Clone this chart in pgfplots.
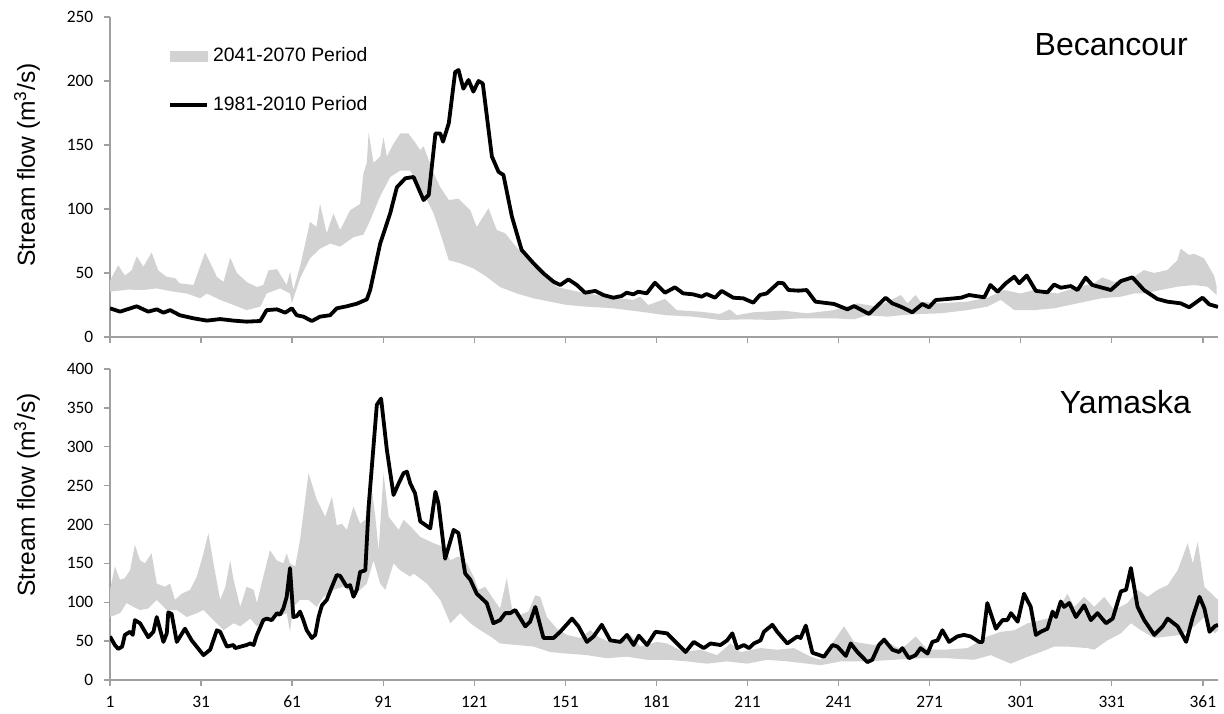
\documentclass[border=0pt]{standalone}
\usepackage{pgfplots}
\pgfplotsset{compat=1.18}
\usepgfplotslibrary{fillbetween}
\usepackage{fontspec}
\setmainfont{Liberation Sans}
\newfontfamily\carlito{Carlito}
\definecolor{axisgray}{RGB}{160,160,160}
\definecolor{bandgray}{RGB}{210,210,210}

\pgfplotsset{panel/.style={
  scale only axis, width=554pt,
  xmin=1, xmax=366, ymin=0,
  axis lines*=left,
  axis line style={draw=axisgray, line width=0.65pt},
  xtick={1,31,...,361},
  ytick distance=50,
  tick align=outside,
  major tick length=2.85pt,
  tick style={draw=axisgray, line width=0.65pt},
  tick label style={font=\carlito\fontsize{8.7}{10}\selectfont},
  /pgf/number format/assume math mode=true,
  yticklabel style={xshift=-2pt},
  xticklabel style={yshift=-1pt, text height=6.2pt, text depth=0pt},
  ylabel style={font=\fontsize{12.3}{14}\selectfont, anchor=center},
  ylabel={Stream flow (m\textsuperscript{3}/s)},
  line join=round,
}}

\begin{document}
\begin{tikzpicture}

% ---------------- Becancour ----------------
\begin{axis}[panel, at={(55pt,-168.5pt)}, anchor=south west,
  height=160pt, ymax=250, xticklabel=\empty,
  ylabel style={at={(axis description cs:-0.0749,0.5375)}},
  legend style={at={(0.0523,0.918)}, anchor=north west,
    draw=none, fill=none, inner sep=0pt, row sep=12pt,
    font=\fontsize{9.7}{11}\selectfont},
  legend cell align=left]
\addlegendimage{legend image code/.code={\fill[bandgray] (0pt,-2.5pt) rectangle (18.5pt,2.5pt);}}
\addlegendentry{2041-2070 Period}
\addplot[name path=bup, draw=none, forget plot] coordinates {
(1,44) (3.7,56) (5.9,48) (8.1,52) (9.8,63) (12,55) (14.7,66) (16.9,52) (19.7,47) (22.4,46)
(24,42) (28.5,40.6) (32.3,66) (34,58) (36.2,47) (38.4,43) (40.6,62) (42.8,50) (46,43) (49.4,39)
(51.5,40.6) (53.2,52) (56,53) (59.2,40.6) (60.3,51) (61.4,36.7) (63.6,55) (66.9,90) (69,86) (70.2,104)
(72.4,81) (74.6,96.6) (76.8,83.6) (80.1,99) (83.4,104) (84.5,128) (85.6,136) (86.2,160) (87.8,136) (90,141)
(91.1,156) (92.2,141) (94.4,151) (96.6,159) (99.3,159) (101.5,152) (103.2,146) (104.3,149) (107.6,128) (109.8,117)
(112.6,107) (115.8,108) (119.7,99) (121.8,86) (125.7,100.5) (128.4,83.6) (131.2,81) (133.9,73) (137.2,64) (141.6,55)
(148.2,39) (158,34) (166.8,30.7) (173.4,29) (175.6,31.5) (178.3,25) (183.8,29.7) (187.7,21) (195.3,19.8) (201.9,18)
(205.2,21.6) (207.4,17) (212.9,19.3) (222.8,20.6) (230.5,18.5) (239.5,21) (247.2,26.3) (253.8,23.7) (261.5,32.8) (263.7,26.3)
(266.4,32.8) (268,27.6) (274.6,26.3) (283.4,27.6) (290,30.7) (295.5,36.7) (301,34) (305.4,36.7) (313.1,34) (319.7,39)
(325.2,42) (327.9,46.6) (331.8,43) (338.4,47) (341.6,52.3) (344.9,50) (349.3,52.3) (352.6,60) (353.7,69) (356.5,64)
(358.1,65) (361.4,61.5) (364.7,48) (365.5,40)
};
\addplot[name path=blo, draw=none, forget plot] coordinates {
(1,35.4) (7,37) (12,36.7) (16.4,38) (21.9,35.4) (26.3,34) (30.7,30.2) (32.9,34) (37.3,29) (41.7,25)
(46,21) (50.5,23.7) (52.6,34) (57,38) (60.3,34) (60.9,26.3) (63.6,45.8) (66.9,61.5) (70.2,69) (73.5,73)
(76.8,70.6) (81.2,78) (84.5,80) (86.7,91) (90,110) (93.3,125) (96.6,130) (99.9,130) (105.4,107) (107.6,96.6)
(109.8,81) (112.6,60) (116.4,57.6) (120.7,53.6) (125.1,47) (129.5,39) (135,34) (140.5,30.2) (146,27.6) (151.5,25)
(158,23.7) (166.8,22.4) (175.6,19.8) (184.3,17) (193.1,15.9) (201.9,13.3) (210.7,13.8) (219.5,13.3) (228.4,14.6) (239.5,14.6)
(246.1,13.8) (250.5,17) (257.1,15.9) (261.5,17) (268,18) (274.6,18.5) (283.4,21) (290,23.7) (294.4,29) (298.9,21)
(305.4,21) (312,22.4) (319.7,26.3) (327.4,30.2) (334,31.5) (338.4,34) (341.6,34) (347.1,36.7) (352.6,39.3) (358.1,40.6)
(362.5,39.3) (365.5,33)
};
\addplot[bandgray, draw=none, forget plot] fill between[of=bup and blo];
\addplot[black, line width=1.9pt,
  legend image code/.code={\draw[black, line width=1.9pt] (0pt,0pt) -- (18.5pt,0pt);}] coordinates {
(1,22.4) (4.3,19.8) (9.8,24) (13.6,19.8) (16.4,21.6) (18.6,19) (20.8,21) (24,17) (28.5,14.6) (32.9,12.8)
(37.3,14) (41.7,12.8) (46,12) (50.5,12.5) (52.6,21) (56,21.6) (58.7,19) (60.9,22.4) (62.5,17) (64.7,15.9)
(67.5,12.5) (70.2,15.9) (73.5,17) (75.7,22.4) (79,24) (82.3,26) (85.6,29.4) (86.7,36.7) (90,73) (93.3,96.6)
(95.5,117) (98.3,124) (101,125) (104.3,107) (106,111) (108.2,159) (109.8,159) (110.7,152.6) (112.6,167) (114.7,207)
(115.8,208.6) (117.4,194) (119.1,200.8) (120.7,191.7) (122.4,200) (123.8,198) (126.8,141) (129,129) (130.6,126.6) (133.4,94)
(136.6,68) (140.5,57.6) (143.8,49.7) (147.1,43.2) (149.3,40.6) (152,45) (154.8,40.6) (157.5,34.6) (160.8,36) (163.5,32.8)
(166.8,30.7) (169.5,32) (171.2,34.6) (173.4,33.3) (175,35.4) (177.8,34.1) (180.5,42.4) (183.8,34.6) (187.1,38.8) (189.8,34.1)
(193.1,33.3) (195.9,31.5) (197.5,33.6) (200.3,30.7) (202.5,36) (206.3,30.7) (209.6,30.2) (212.9,26.8) (215.1,32.8) (217.3,34)
(221.2,42.4) (222.8,42) (224.5,36.7) (227.8,36.2) (230.5,36.7) (233.4,27.6) (239.5,25.8) (243.9,21.6) (246.1,24.2) (251,18)
(256.5,30.7) (258.7,26.3) (261.5,23.7) (265.3,19.3) (268.6,25.8) (270.8,23.2) (273,28.9) (276.9,29.7) (281.3,30.7) (284,32.8)
(289,31) (291,40.6) (293.4,35.4) (296.1,42) (298.9,47.1) (300.5,42) (303,48) (306,36) (309.8,34.9) (312,41)
(314.2,38.5) (317.5,39.8) (319.7,36.7) (322.4,46.4) (324.6,40.6) (330.7,36.7) (334,43.7) (337.8,46.6) (341.6,36.7) (346,29.7)
(349.3,27.6) (353.7,26.3) (356.5,23.2) (360.9,30.7) (363.1,25.5) (366,23.5)
};
\addlegendentry{1981-2010 Period}
\node[anchor=base east, font=\fontsize{16}{19}\selectfont] at (rel axis cs:0.979,0.881) {Becancour};
\end{axis}

% ---------------- Yamaska ----------------
\begin{axis}[panel, at={(55pt,-340pt)}, anchor=south west,
  height=155.5pt, ymax=400,
  ylabel style={at={(axis description cs:-0.0749,0.595)}}]
\addplot[name path=yup, draw=none, forget plot] coordinates {
(1,116) (2.6,146) (4.3,129) (5.9,131) (7.6,141) (9.2,174) (10.9,154) (12.5,150) (14.7,163) (16.4,124)
(19.1,120) (20.8,124) (22.4,103) (24.6,111) (27.4,116) (29.6,133) (31.8,163) (33.4,189) (35.1,150) (37.3,103)
(39,120) (40.6,154) (41.7,129) (43.9,94) (46,120) (48.3,116) (49.4,99) (51.5,133) (53.7,167) (55.9,154)
(58.1,150) (59.2,163) (60.3,150) (62,146) (63.6,180) (66.4,266) (69.1,232) (71.9,210) (74.1,236) (75.7,199)
(77.4,201) (79,193) (81.2,223) (83.4,201) (85.1,206) (86.7,262) (88.4,210) (89.5,167) (91.1,266) (92.8,210)
(96.1,193) (97.7,206) (99.9,198) (103.2,184) (107.6,176) (110.9,171) (113.1,154) (115.8,159) (118.6,150) (120.8,133)
(122.4,116) (124.6,120) (126.8,107) (129.5,92) (131.7,131) (133.4,92) (136.1,84) (138.8,88) (141.1,109) (142.7,107)
(144.9,81) (148.2,66) (151.5,58) (155.9,54) (159.2,64) (162.5,54) (166.9,47) (172.4,58) (175.7,43) (181.2,49)
(184.5,47) (190,36) (195.5,39) (201,32) (205.4,47) (208.7,36) (215.3,41) (220.8,39) (226.3,41) (231.8,30)
(235.1,26) (242.8,69) (246.1,49) (252.7,45) (257.1,49) (261.5,39) (266.4,56) (270.3,39) (275.8,39) (283.5,41)
(290,56) (294.5,62) (298.9,64) (303.3,73) (307.6,77) (312,81) (316.4,111) (318.6,94) (321.9,107) (325.2,94)
(328.5,107) (331.8,90) (336.2,99) (339.5,116) (342.8,107) (346.1,116) (349.4,122) (352.7,141) (356,176) (357.7,150)
(359.3,178) (361.5,120) (364.9,107) (366,103)
};
\addplot[name path=ylo, draw=none, forget plot] coordinates {
(1,81) (4.3,86) (6.5,99) (8.7,94) (10.9,90) (13.6,92) (16.4,103) (19.7,90) (23,90) (26.3,81)
(29.6,86) (31.8,90) (35.1,77) (38.4,64) (41.7,73) (43.9,69) (47.2,79) (49.4,69) (52.6,77) (56,81)
(59.2,86) (60.3,62) (61.4,94) (63.6,103) (66.4,103) (69.1,94) (71.3,107) (74.6,116) (77.9,120) (81.2,111)
(83.4,116) (85.6,124) (87.8,154) (90,124) (91.7,116) (94.4,150) (96.6,141) (99.9,133) (101,137) (105.4,124)
(109.8,103) (113.1,73) (116.4,86) (119.7,73) (123,64) (126.3,56) (129.5,47) (135,45) (140.5,43) (146,36)
(151.5,34) (158.1,32) (164.7,28) (171.3,30) (177.9,26) (184.5,26) (191.1,24) (197.7,21) (204.3,24) (210.9,21)
(217.5,26) (224.1,24) (230.7,21) (235.1,19) (241.7,24) (250.5,24) (259.3,26) (268,28) (276.9,28) (285.6,26)
(291.1,32) (297.7,21) (303.3,30) (307.6,36) (312,43) (316.4,43) (323,41) (325.2,39) (329.6,51) (334,60)
(337.3,73) (340.6,64) (345,54) (349.4,56) (353.8,58) (358.2,69) (361.5,81) (364.9,60) (366,64)
};
\addplot[bandgray, draw=none, forget plot] fill between[of=yup and ylo];
\addplot[black, line width=1.9pt] coordinates {
(1,56) (2.6,45) (3.7,40) (5,43) (5.9,58) (7.6,62) (8.5,58) (9.2,77) (10.9,73) (13.6,55)
(15.3,62) (16.4,81) (18.6,49) (19.7,60) (20.2,87) (21.3,85) (23,49) (25.7,66) (27.9,51) (31.8,32)
(34,39) (36.2,64) (37.3,62) (39.5,43) (41.7,45) (42.2,41) (46,45) (47.2,47) (48.3,45) (49.4,58)
(51.5,77) (52.6,79) (54.3,77) (56,86) (57,84) (58.1,92) (59.2,107) (60.3,144) (61.4,81) (62.5,82)
(63.6,88) (64.7,77) (65.8,64) (67.5,54) (68.6,58) (69.7,81) (70.8,96) (72.4,103) (74.1,120) (75.7,135)
(76.8,134) (79,120) (80.1,122) (81.2,107) (82.3,116) (83.4,139) (85.1,141) (86.2,223) (88.9,354) (90.3,362)
(92.2,296) (94.4,238) (96.1,253) (97.7,266) (98.8,268) (99.9,253) (101.5,240) (103.2,204) (104.3,201) (106.5,195)
(108.2,242) (109.2,227) (111.4,156) (114.2,193) (115.8,189) (118,137) (119.7,129) (121.8,111) (125.1,99) (127.3,73)
(129.5,77) (131.2,86) (132.8,86) (134.5,90) (137.8,69) (139.4,75) (141.1,94) (143.8,54) (147.1,54) (149.3,62)
(153.2,79) (155.3,69) (158.1,49) (160.3,56) (163,71) (165.8,51) (169.1,49) (171.3,58) (173.5,45) (175.2,57)
(177.9,45) (180.7,62) (184.5,60) (187.3,49) (190.6,36) (193.3,49) (196.6,41) (198.8,47) (202.1,45) (204.3,51)
(206,60) (207.6,41) (209.8,45) (211.5,41) (213.1,47) (215.3,51) (216.4,62) (219.2,71) (220.8,62) (224.1,47)
(227.4,56) (228.5,54) (230.2,70) (232.4,35) (236.2,30) (239,45) (240.6,43) (243.4,31) (245,47) (247.2,36)
(250.5,23) (252.1,26) (254.3,45) (256,52) (258.7,39) (260.9,36) (262,41) (264.2,28) (266.4,32) (268,41)
(270.3,34) (271.9,49) (273.6,51) (275.2,64) (277.4,49) (280.1,56) (282.3,58) (284.5,56) (287.3,49) (288.4,49)
(290,99) (292.8,66) (295,77) (296.6,77) (297.8,86) (300,75) (302.1,111) (304.3,94) (306,58) (307.6,62)
(309.8,66) (311.5,88) (312.6,81) (314.2,101) (315.3,94) (317,99) (319.2,81) (321.9,96) (324.1,77) (326.3,86)
(329.1,73) (331.3,79) (334,114) (335.7,116) (337.3,144) (339.5,94) (341.7,77) (345,58) (347.8,69) (349.4,79)
(352.7,69) (355.5,49) (357.7,81) (359.9,107) (361.5,92) (363.2,62) (364.9,69) (366,71)
};
\node[anchor=base east, font=\fontsize{16}{19}\selectfont] at (rel axis cs:0.982,0.8585) {Yamaska};
\end{axis}
\path (0pt,0pt) rectangle (612pt,-353.5pt);
\end{tikzpicture}
\end{document}
